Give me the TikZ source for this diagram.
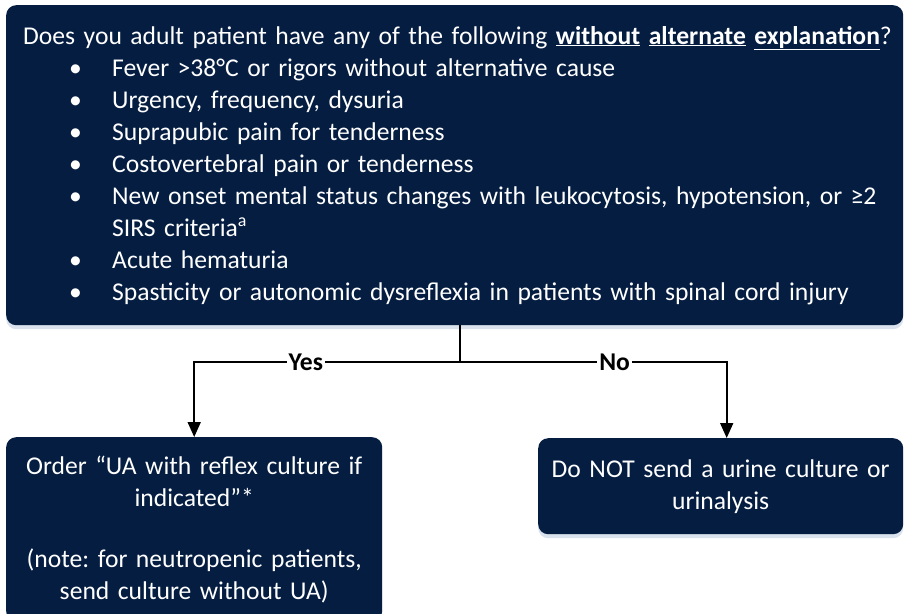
\documentclass[tikz,border=0pt]{standalone}
\usepackage{fontspec}
\setmainfont{Carlito}
\usepackage{tikz}
\usetikzlibrary{arrows.meta,shapes,positioning,shadows}
\definecolor{uinavy}{RGB}{5,29,65}
\definecolor{uishadow}{RGB}{170,190,215}
\frenchspacing
\newcommand{\uifont}{\fontsize{25.6}{32}\selectfont}
\tikzstyle{arrow} = [line width=1.8pt,-{Triangle[length=15pt,width=13pt]},color=black]
\tikzstyle{stem} = [line width=1.8pt,color=black]
\tikzstyle{navybox} = [fill=uinavy, text=white, rounded corners=10pt, inner sep=0pt,
  drop shadow={shadow xshift=0pt, shadow yshift=-4pt, fill=uishadow, opacity=0.45}]
\tikzstyle{answer} = [fill=white, font=\uifont\bfseries, inner xsep=2pt, inner ysep=1pt]
\newcommand{\uibullet}[1]{\par\hangindent=93pt\hangafter=1\noindent\hspace*{50pt}\makebox[43pt][l]{\textbullet}#1}

\begin{document}
\begin{tikzpicture}[x=1pt, y=1pt, font=\uifont]
\useasboundingbox (0,0) rectangle (904,-613);
% question box
\node[navybox, anchor=north west, minimum width=897pt, minimum height=320pt,
  text width=871pt, align=left] (question) at (6,-5) {%
  \mbox{\hspace*{4pt}Does you adult patient have any of the following \textbf{\underline{without} \underline{alternate} \underline{explanation}}?}
  \uibullet{Fever >38°C or rigors without alternative cause}
  \uibullet{Urgency, frequency, dysuria}
  \uibullet{Suprapubic pain for tenderness}
  \uibullet{Costovertebral pain or tenderness}
  \uibullet{New onset mental status changes with leukocytosis, hypotension, or ≥2\newline SIRS criteria\textsuperscript{a}}
  \uibullet{Acute hematuria}
  \uibullet{Spasticity or autonomic dysreflexia in patients with spinal cord injury}};

% answer boxes
\node[navybox, anchor=north west, minimum width=376pt, minimum height=184pt,
  text width=364pt, align=center] (order) at (6,-437)
  {Order “UA with reflex culture if\\ indicated”*\\[29pt] (note: for neutropenic patients,\\ send culture without UA)};
\node[navybox, anchor=north west, minimum width=365pt, minimum height=96pt,
  text width=355pt, align=center] (nobox) at (538,-438)
  {Do NOT send a urine culture or\\ urinalysis};

% connectors
\coordinate (split) at (460,-362);
\draw[stem] (question.south -| split) -- (split);
\draw[arrow] (split) -| node[answer, pos=0.29] {Yes} (order.north);
\draw[arrow] (split) -| node[answer, pos=0.29] {No} ([xshift=6pt]nobox.north);
\end{tikzpicture}
\end{document}
